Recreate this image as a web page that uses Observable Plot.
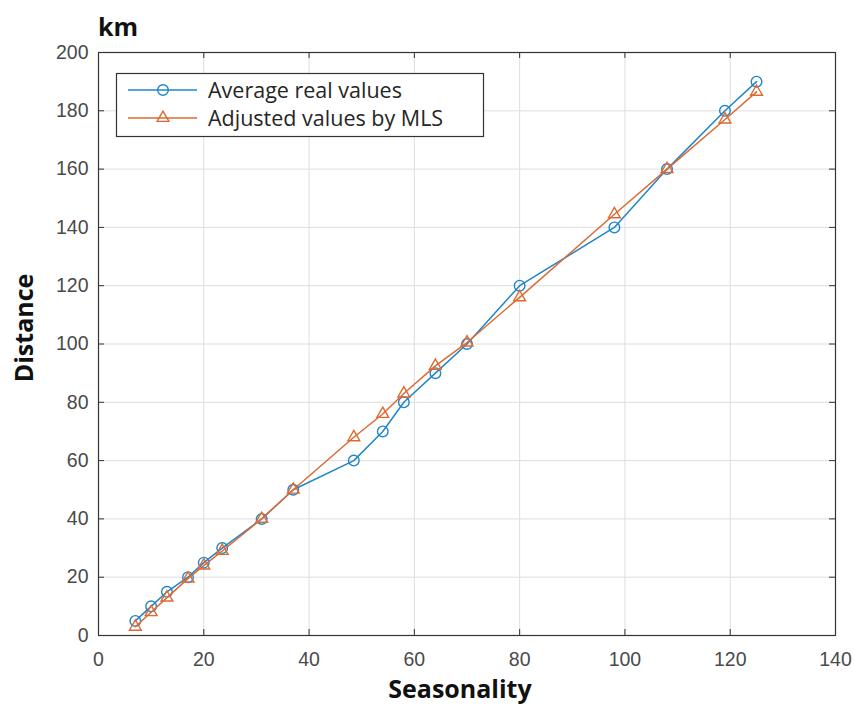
<!DOCTYPE html>
<html><head><meta charset="utf-8">
<script src="https://cdn.jsdelivr.net/npm/d3@7"></script>
<script src="https://cdn.jsdelivr.net/npm/@observablehq/plot@0.6"></script>
<style>body{margin:0;background:#fff}</style>
</head><body><div id="chart"></div>
<script>
// ---- data ----
const seasonality = [7, 10, 13, 17, 20, 23.5, 31, 37, 48.5, 54, 58, 64, 70, 80, 98, 108, 119, 125];
const realValues = [5, 10, 15, 20, 25, 30, 40, 50, 60, 70, 80, 90, 100, 120, 140, 160, 180, 190];
const adjustedValues = [3, 8, 13, 19.5, 24, 29, 40, 50, 68, 76, 83, 92.5, 100.5, 116, 144.5, 160, 177, 186.5];
const seriesNames = ["Average real values", "Adjusted values by MLS"];
const xTicks = [0, 20, 40, 60, 80, 100, 120, 140];
const yTicks = [0, 20, 40, 60, 80, 100, 120, 140, 160, 180, 200];
const xLabel = "Seasonality", yLabel = "Distance", unitLabel = "km";

const blue = "#1f86c8", orange = "#dd6a33";
const W = 855, H = 706;
const mL = 98, mR = 20, mT = 52, mB = 71;
const xDom = [0, 140], yDom = [0, 200];
const tickPx = 6;
const tlx = (xDom[1] - xDom[0]) * tickPx / (W - mL - mR);
const tly = (yDom[1] - yDom[0]) * tickPx / (H - mT - mB);

const real = seasonality.map((x, i) => ({x, y: realValues[i]}));
const adj = seasonality.map((x, i) => ({x, y: adjustedValues[i]}));

const plot = Plot.plot({
  width: W, height: H,
  marginLeft: mL, marginRight: mR, marginTop: mT, marginBottom: mB,
  x: {domain: xDom},
  y: {domain: yDom},
  style: {fontFamily: "'Liberation Sans', Arial, sans-serif", background: "#fff"},
  marks: [
    Plot.gridX(xTicks, {stroke: "#dedede", strokeOpacity: 1}),
    Plot.gridY(yTicks, {stroke: "#dedede", strokeOpacity: 1}),
    Plot.axisX(xTicks, {tickSize: 0, tickPadding: 17, fontSize: 19.5, fill: "#4a4a4a", label: null}),
    Plot.axisY(yTicks, {tickSize: 0, tickPadding: 10, fontSize: 19.5, fill: "#4a4a4a", label: null}),
    Plot.ruleX(xTicks, {x: d => d, y1: yDom[0], y2: yDom[0] + tly, stroke: "#333"}),
    Plot.ruleX(xTicks, {x: d => d, y1: yDom[1], y2: yDom[1] - tly, stroke: "#333"}),
    Plot.ruleY(yTicks, {y: d => d, x1: xDom[0], x2: xDom[0] + tlx, stroke: "#333"}),
    Plot.ruleY(yTicks, {y: d => d, x1: xDom[1], x2: xDom[1] - tlx, stroke: "#333"}),
    Plot.frame({stroke: "#333", strokeWidth: 1.2}),
    Plot.line(real, {x: "x", y: "y", stroke: blue, strokeWidth: 1.5}),
    Plot.dot(real, {x: "x", y: "y", stroke: blue, r: 5.3, strokeWidth: 1.4, fill: "none"}),
    Plot.line(adj, {x: "x", y: "y", stroke: orange, strokeWidth: 1.5}),
    Plot.dot(adj, {x: "x", y: "y", stroke: orange, r: 4.4, symbol: "triangle", strokeWidth: 1.4, fill: "none"})
  ]
});
document.getElementById("chart").append(plot);

const svg = d3.select(plot);
const bold = "'Open Sans', 'Noto Sans', sans-serif";
svg.append("text").attr("x", 98).attr("y", 36).attr("text-anchor", "start").attr("font-family", bold)
  .attr("font-weight", 700).attr("font-size", 25).attr("fill", "#111").text(unitLabel);
svg.append("text").attr("x", 460).attr("y", 698).attr("text-anchor", "middle")
  .attr("font-family", bold).attr("font-weight", 700).attr("font-size", 25).attr("fill", "#111").text(xLabel);
svg.append("text").attr("transform", "translate(33,328) rotate(-90)").attr("text-anchor", "middle")
  .attr("font-family", bold).attr("font-weight", 700).attr("font-size", 25).attr("fill", "#111").text(yLabel);

// legend
const lg = svg.append("g").attr("text-anchor", "start");
lg.append("rect").attr("x", 116.5).attr("y", 73.5).attr("width", 367).attr("height", 63)
  .attr("fill", "#fff").attr("stroke", "#333").attr("stroke-width", 1.2);
const rows = [{name: seriesNames[0], color: blue, sym: d3.symbolCircle, size: Math.PI * 5.3 * 5.3},
              {name: seriesNames[1], color: orange, sym: d3.symbolTriangle, size: Math.PI * 4.4 * 4.4}];
rows.forEach((r, i) => {
  const y = 90 + i * 28;
  lg.append("line").attr("x1", 128).attr("x2", 197).attr("y1", y).attr("y2", y)
    .attr("stroke", r.color).attr("stroke-width", 1.5);
  lg.append("path").attr("d", d3.symbol(r.sym, r.size)()).attr("transform", `translate(163,${y})`)
    .attr("fill", "none").attr("stroke", r.color).attr("stroke-width", 1.4);
  lg.append("text").attr("x", 208).attr("y", y).attr("dy", "0.35em").attr("text-anchor", "start")
    .attr("font-family", "'Open Sans', sans-serif").attr("font-size", 21.5).attr("fill", "#262626").text(r.name);
});
</script>
</body></html>
